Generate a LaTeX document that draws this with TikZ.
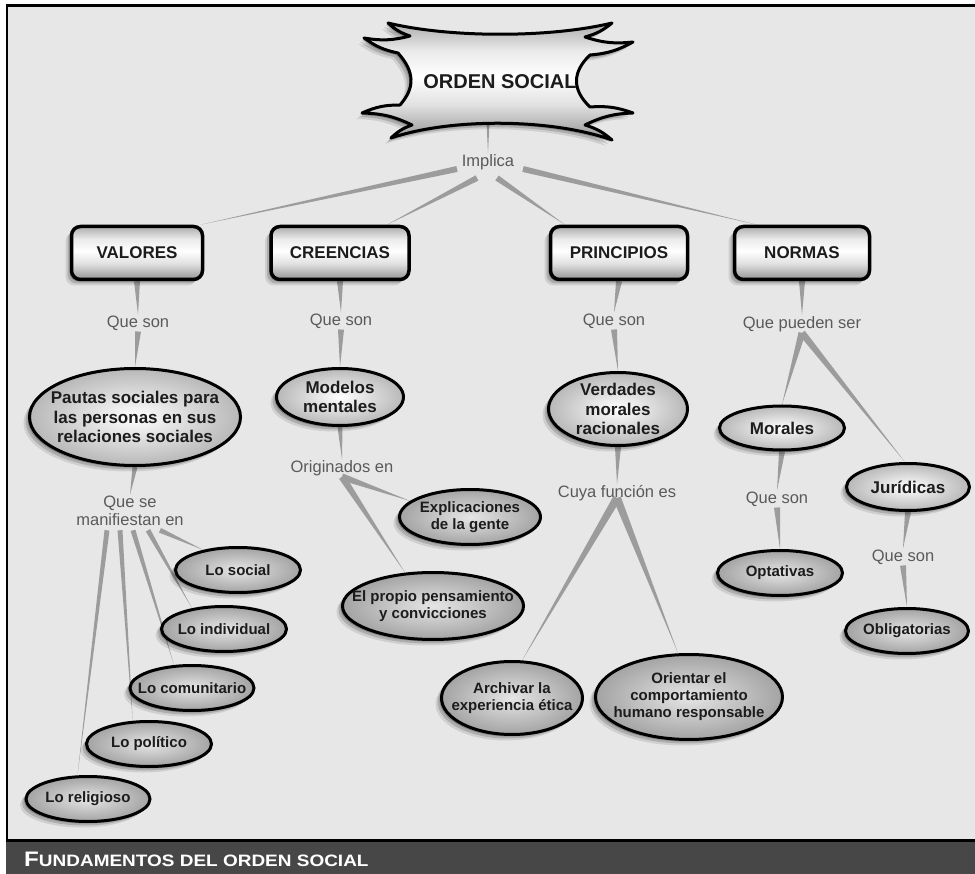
\documentclass[tikz,border=0pt]{standalone}
\usepackage{fontspec}
\setmainfont{Liberation Sans}
\usetikzlibrary{shapes.geometric,calc,shadows}
\definecolor{panelc}{HTML}{E7E7E7}
\definecolor{barc}{HTML}{474747}
\definecolor{wedgec}{HTML}{9C9C9C}
\definecolor{lblc}{HTML}{5A5A5A}
\definecolor{inkc}{HTML}{1C1C1C}
\pgfdeclareverticalshading{silverv}{100bp}{color(0bp)=(black!42); color(25bp)=(black!42); color(40bp)=(black!12); color(52bp)=(white); color(63bp)=(black!8); color(75bp)=(black!32); color(100bp)=(black!32)}
\pgfdeclarelayer{bgpanel}
\pgfdeclarelayer{links}
\pgfsetlayers{bgpanel,links,main}
\newcommand\wlink[3][3pt]{\begin{pgfonlayer}{links}\fill[wedgec] ($#2!#1!90:#3$) -- ($#2!#1!-90:#3$) -- #3 -- cycle;\end{pgfonlayer}}
\begin{document}
\begin{tikzpicture}[x=1pt,y=-1pt,
  every node/.style={text=inkc},
  shadowed/.style={drop shadow={shadow xshift=-6pt,shadow yshift=-6pt,opacity=0.10,fill=black},
                   drop shadow={shadow xshift=-4pt,shadow yshift=-4pt,opacity=0.16,fill=black},
                   drop shadow={shadow xshift=-2pt,shadow yshift=-2pt,opacity=0.22,fill=black}},
  concept/.style={shape=rectangle, rounded corners=9pt, draw=black, line width=3.5pt, shade, shading=silverv, minimum height=53pt, inner sep=0pt, font=\bfseries\fontsize{17}{18}\selectfont, shadowed},
  ellw/.style={shape=ellipse, draw=black, line width=3pt, inner color=white, outer color=black!28, inner sep=0pt, shadowed},
  ellg/.style={shape=ellipse, draw=black, line width=3pt, inner color=black!10, outer color=black!36, inner sep=0pt, shadowed},
  bigtxt/.style={align=center, font=\bfseries\fontsize{17}{19.5}\selectfont, text=inkc, inner sep=0pt},
  smalltxt/.style={align=center, font=\bfseries\fontsize{15}{17}\selectfont, text=inkc, inner sep=0pt},
  linkph/.style={text=lblc, font=\fontsize{16.5}{18.5}\selectfont, inner sep=1pt, align=center}
]
\useasboundingbox (0,0) rectangle (975,874);
\begin{pgfonlayer}{bgpanel}
\fill[white] (0,0) rectangle (975,874);
\fill[panelc] (7,5.5) rectangle (975,840.5);
\draw[line width=2.5pt] (7,842) -- (7,5.5) -- (975,5.5);
\draw[line width=3pt] (6,840.5) -- (975,840.5);
\fill[barc] (6,842) rectangle (975,874);
\end{pgfonlayer}

% central starburst
\path[draw=black, line width=3pt, line join=round, shade, shading=silverv, shadowed]
 (388,23) .. controls (450,38) and (550,38) .. (612,23)
 to[bend left=12] (585,37) to[bend right=12] (633,42) to[bend left=12] (590,55)
 .. controls (572,72) and (572,90) .. (590,107)
 to[bend left=12] (633,113) to[bend right=12] (585,125) to[bend left=12] (612,140)
 .. controls (550,118) and (450,118) .. (391,138)
 to[bend left=12] (412,125) to[bend right=12] (362,113) to[bend left=12] (400,105)
 .. controls (415,88) and (415,72) .. (398,53)
 to[bend left=12] (364,38) to[bend right=12] (410,36) to[bend left=12] (388,23) -- cycle;
\node[font=\bfseries\fontsize{20}{24}\selectfont, minimum height=80pt, inner sep=0pt] (orden) at (500,82) {ORDEN SOCIAL};

% linking phrases
\node[linkph] (implica) at (488,162) {Implica};
\node[linkph] (qs1) at (138,323) {Que son};
\node[linkph] (qs2) at (341,321) {Que son};
\node[linkph] (qs3) at (614,321) {Que son};
\node[linkph] (qps) at (802,324) {Que pueden ser};
\node[linkph] (qse) at (130,511) {Que se\\manifiestan en};
\node[linkph] (orig) at (342,468) {Originados en};
\node[linkph] (cuya) at (617,493) {Cuya función es};
\node[linkph] (qs4) at (777,499) {Que son};
\node[linkph] (qs5) at (903,557) {Que son};

% boxes
\node[concept, minimum width=131pt] (valores) at (137,253) {VALORES};
\node[concept, minimum width=138pt] (creencias) at (340,253) {CREENCIAS};
\node[concept, minimum width=137pt] (principios) at (619,253) {PRINCIPIOS};
\node[concept, minimum width=135pt] (normas) at (802,253) {NORMAS};

% ellipses
\node[ellw, minimum width=211pt, minimum height=97pt, label={[bigtxt]center:{Pautas sociales para\\las personas en sus\\relaciones sociales}}] (pautas) at (135,417) {};
\node[ellw, minimum width=127pt, minimum height=57pt, label={[bigtxt]center:{Modelos\\mentales}}] (modelos) at (340,397) {};
\node[ellw, minimum width=139pt, minimum height=73pt, label={[bigtxt]center:{Verdades\\morales\\racionales}}] (verdades) at (618,409) {};
\node[ellw, minimum width=125pt, minimum height=44pt, label={[bigtxt]center:{Morales}}] (morales) at (782,428) {};
\node[ellw, minimum width=123pt, minimum height=47pt, label={[bigtxt]center:{Jurídicas}}] (juridicas) at (908,487) {};

\node[ellg, minimum width=141pt, minimum height=55pt, label={[smalltxt]center:{Explicaciones\\de la gente}}] (explic) at (470,517) {};
\node[ellg, minimum width=181pt, minimum height=67pt, label={[smalltxt]center:{El propio pensamiento\\y convicciones}}] (propio) at (433,606) {};
\node[ellg, minimum width=141pt, minimum height=73pt, label={[smalltxt]center:{Archivar la\\experiencia ética}}] (archivar) at (512,698) {};
\node[ellg, minimum width=187pt, minimum height=85pt, label={[smalltxt]center:{Orientar el\\comportamiento\\humano responsable}}] (orientar) at (689,697) {};
\node[ellg, minimum width=125pt, minimum height=45pt, label={[smalltxt]center:{Optativas}}] (optativas) at (780,573) {};
\node[ellg, minimum width=123pt, minimum height=45pt, label={[smalltxt]center:{Obligatorias}}] (obligatorias) at (907,631) {};
\node[ellg, minimum width=125pt, minimum height=45pt, label={[smalltxt]center:{Lo social}}] (social) at (238,570) {};
\node[ellg, minimum width=125pt, minimum height=45pt, label={[smalltxt]center:{Lo individual}}] (individual) at (224,629) {};
\node[ellg, minimum width=124pt, minimum height=45pt, label={[smalltxt]center:{Lo comunitario}}] (comunitario) at (192,688) {};
\node[ellg, minimum width=125pt, minimum height=45pt, label={[smalltxt]center:{Lo político}}] (politico) at (149,744) {};
\node[ellg, minimum width=124pt, minimum height=45pt, label={[smalltxt]center:{Lo religioso}}] (religioso) at (88,799) {};

% title bar
\node[anchor=base west, text=white, inner sep=0pt] (title) at (24,866) {\scalebox{1.15}[1]{\bfseries\fontsize{21}{21}\selectfont F\fontsize{16.5}{16.5}\selectfont UNDAMENTOS DEL ORDEN SOCIAL}};

% helper coordinates
\coordinate (i1) at ([shift={(-31,7)}]implica.center);
\coordinate (i2) at ([shift={(-11,16)}]implica.center);
\coordinate (i3) at ([shift={(9,16)}]implica.center);
\coordinate (i4) at ([shift={(35,7)}]implica.center);
\coordinate (tv) at ([xshift=-4pt]valores.north east);
\coordinate (tc) at ([xshift=47pt]creencias.north);
\coordinate (tp) at ([xshift=-54pt]principios.north);
\coordinate (tn) at ([xshift=-45pt]normas.north);
\coordinate (os) at (orden.south -| implica.north);
\coordinate (m1) at ([shift={(-23,3)}]qse.south);
\coordinate (m2) at ([shift={(-10,3)}]qse.south);
\coordinate (m3) at ([shift={(3,3)}]qse.south);
\coordinate (m4) at ([shift={(18,3)}]qse.south);
\coordinate (m5) at ([shift={(30,3)}]qse.south);
\coordinate (ca) at ([yshift=4pt]cuya.south);

% connectors
\wlink[1.5pt]{(os)}{(implica.north)}
\wlink{(i1)}{(tv)}
\wlink{(i2)}{(tc)}
\wlink{(i3)}{(tp)}
\wlink{(i4)}{(tn)}
\wlink{(valores.south)}{(qs1.north)}
\wlink{(qs1.south)}{(pautas.north)}
\wlink{(creencias.south)}{(qs2.north)}
\wlink{(qs2.south)}{(modelos.north)}
\wlink{(principios.south)}{(qs3.north)}
\wlink{(qs3.south)}{(verdades.north)}
\wlink{(normas.south)}{(qps.north)}
\wlink[3.5pt]{(qps.south)}{(morales.north)}
\wlink[3.5pt]{(qps.south)}{(juridicas.97)}
\wlink[2.5pt]{(pautas.south)}{(qse.north)}
\wlink[2.5pt]{(m1)}{(religioso.114)}
\wlink[2.5pt]{(m2)}{(politico.125)}
\wlink[2.5pt]{(m3)}{(comunitario.128)}
\wlink[2.5pt]{(m4)}{(individual.147)}
\wlink[2.5pt]{(m5)}{(social.150)}
\wlink[2.5pt]{(modelos.south)}{(orig.north)}
\wlink[3.5pt]{(orig.south)}{(explic.165)}
\wlink[3.5pt]{(orig.south)}{(propio.130)}
\wlink{(verdades.south)}{(cuya.north)}
\wlink[4pt]{(ca)}{(archivar.75)}
\wlink[4pt]{(ca)}{(orientar.104)}
\wlink{(morales.south)}{(qs4.north)}
\wlink{(qs4.south)}{(optativas.north)}
\wlink{(juridicas.south)}{(qs5.north)}
\wlink{(qs5.south)}{(obligatorias.north)}
\end{tikzpicture}
\end{document}
